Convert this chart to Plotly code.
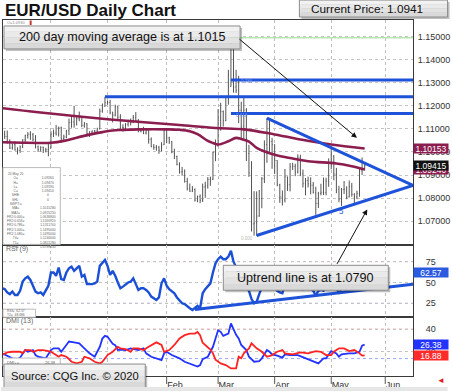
import plotly.graph_objects as go
from plotly.subplots import make_subplots
import pandas as pd

# ---------------- data ----------------
days = pd.bdate_range("2019-11-04", "2020-05-20")   # trading days, index 0..142

first_open = 1.1128
high = [1.1140, 1.1092, 1.1093, 1.1054, 1.1036, 1.1046, 1.1020, 1.1028, 1.1055, 1.1075,
        1.1086, 1.1090, 1.1082, 1.1073, 1.1028, 1.1025, 1.1023, 1.1018, 1.1035, 1.1090,
        1.1097, 1.1117, 1.1110, 1.1110, 1.1075, 1.1096, 1.1145, 1.1155, 1.1200, 1.1155,
        1.1175, 1.1153, 1.1130, 1.1125, 1.1090, 1.1093, 1.1095, 1.1105, 1.1188, 1.1210,
        1.1239, 1.1222, 1.1226, 1.1174, 1.1205, 1.1199, 1.1164, 1.1120, 1.1125, 1.1140,
        1.1145, 1.1160, 1.1173, 1.1143, 1.1100, 1.1109, 1.1100, 1.1103, 1.1063, 1.1034,
        1.1030, 1.1026, 1.1042, 1.1097, 1.1096, 1.1066, 1.1048, 1.1014, 1.0984, 1.0955,
        1.0935, 1.0924, 1.0888, 1.0863, 1.0852, 1.0842, 1.0811, 1.0816, 1.0863, 1.0871,
        1.0891, 1.0893, 1.1002, 1.1054, 1.1186, 1.1213, 1.1180, 1.1243, 1.1356, 1.1495,
        1.1454, 1.1356, 1.1330, 1.1218, 1.1237, 1.1190, 1.1031, 1.0960, 1.0830, 1.0829,
        1.0835, 1.0891, 1.1050, 1.1147, 1.1145, 1.1061, 1.1033, 1.0964, 1.0862, 1.0833,
        1.0926, 1.0893, 1.0952, 1.0953, 1.0949, 1.0990, 1.0988, 1.0924, 1.0887, 1.0893,
        1.0890, 1.0870, 1.0849, 1.0827, 1.0862, 1.0889, 1.0888, 1.0972, 1.1019, 1.0986,
        1.0931, 1.0853, 1.0844, 1.0874, 1.0851, 1.0876, 1.0866, 1.0821, 1.0832, 1.0926,
        1.0976, 1.0947]
low = [1.1064, 1.1056, 1.1036, 1.1013, 1.1010, 1.1006, 1.0989, 1.0996, 1.1016, 1.1040,
       1.1058, 1.1052, 1.1046, 1.1015, 1.1000, 1.1002, 1.0995, 1.0998, 1.0981, 1.1015,
       1.1065, 1.1071, 1.1067, 1.1040, 1.1052, 1.1059, 1.1073, 1.1105, 1.1105, 1.1115,
       1.1133, 1.1107, 1.1105, 1.1067, 1.1065, 1.1075, 1.1085, 1.1085, 1.1098, 1.1170,
       1.1196, 1.1205, 1.1163, 1.1128, 1.1154, 1.1135, 1.1092, 1.1087, 1.1090, 1.1110,
       1.1115, 1.1125, 1.1133, 1.1085, 1.1085, 1.1077, 1.1076, 1.1036, 1.1020, 1.1009,
       1.1005, 1.0992, 1.1002, 1.1030, 1.1038, 1.1035, 1.0994, 1.0969, 1.0942, 1.0906,
       1.0897, 1.0867, 1.0833, 1.0827, 1.0826, 1.0785, 1.0782, 1.0778, 1.0783, 1.0801,
       1.0841, 1.0853, 1.0878, 1.0960, 1.1024, 1.1092, 1.1110, 1.1133, 1.1205, 1.1283,
       1.1257, 1.1255, 1.1125, 1.1054, 1.1052, 1.0960, 1.0892, 1.0655, 1.0637, 1.0636,
       1.0719, 1.0756, 1.0865, 1.0953, 1.1000, 1.0927, 1.0904, 1.0851, 1.0779, 1.0768,
       1.0781, 1.0831, 1.0829, 1.0922, 1.0895, 1.0907, 1.0895, 1.0846, 1.0812, 1.0846,
       1.0816, 1.0820, 1.0727, 1.0757, 1.0812, 1.0813, 1.0812, 1.0849, 1.0925, 1.0877,
       1.0821, 1.0782, 1.0766, 1.0818, 1.0795, 1.0803, 1.0806, 1.0774, 1.0795, 1.0806,
       1.0900, 1.0919]
close = [1.1075, 1.1067, 1.1051, 1.1017, 1.1032, 1.1008, 1.1006, 1.1022, 1.1052, 1.1071,
         1.1077, 1.1075, 1.1055, 1.1022, 1.1010, 1.1020, 1.1008, 1.1010, 1.1017, 1.1078,
         1.1082, 1.1077, 1.1104, 1.1058, 1.1065, 1.1092, 1.1128, 1.1130, 1.1121, 1.1144,
         1.1150, 1.1115, 1.1122, 1.1080, 1.1087, 1.1090, 1.1090, 1.1100, 1.1177, 1.1199,
         1.1213, 1.1215, 1.1172, 1.1160, 1.1196, 1.1151, 1.1107, 1.1105, 1.1120, 1.1135,
         1.1127, 1.1150, 1.1136, 1.1090, 1.1096, 1.1082, 1.1093, 1.1055, 1.1024, 1.1019,
         1.1020, 1.1008, 1.1031, 1.1094, 1.1061, 1.1044, 1.1000, 1.0980, 1.0945, 1.0913,
         1.0916, 1.0872, 1.0840, 1.0830, 1.0837, 1.0791, 1.0806, 1.0790, 1.0848, 1.0853,
         1.0881, 1.0882, 1.0998, 1.1026, 1.1137, 1.1175, 1.1136, 1.1240, 1.1284, 1.1449,
         1.1281, 1.1266, 1.1181, 1.1109, 1.1181, 1.0993, 1.0909, 1.0688, 1.0692, 1.0722,
         1.0798, 1.0884, 1.1032, 1.1141, 1.1045, 1.1032, 1.0963, 1.0857, 1.0805, 1.0792,
         1.0892, 1.0858, 1.0935, 1.0938, 1.0913, 1.0977, 1.0905, 1.0862, 1.0876, 1.0862,
         1.0856, 1.0823, 1.0777, 1.0820, 1.0825, 1.0823, 1.0874, 1.0954, 1.0982, 1.0904,
         1.0837, 1.0796, 1.0837, 1.0839, 1.0805, 1.0849, 1.0816, 1.0805, 1.0819, 1.0918,
         1.0924, 1.09415]

ma200_bar = [1, 15, 30, 43, 55, 70, 84, 95, 107, 121, 129, 142]
ma200_val = [1.1190, 1.1172, 1.1155, 1.1141, 1.1130, 1.1117, 1.1104, 1.1098, 1.1076,
             1.1046, 1.1032, 1.10153]
ma2_bar = [1, 9, 15, 20, 25, 30, 35, 40, 45, 55, 65, 70, 74, 77, 81, 83, 85, 89, 92, 94,
           97, 100, 107, 113, 120, 131, 137, 142]
ma2_val = [1.1042, 1.1040, 1.1039, 1.1040, 1.1048, 1.1062, 1.1075, 1.1086, 1.1094, 1.1098,
           1.1098, 1.1096, 1.1090, 1.1077, 1.1048, 1.1039, 1.1032, 1.1046, 1.1061, 1.1056,
           1.1045, 1.1018, 1.0988, 1.0974, 1.0960, 1.0950, 1.0938, 1.0924]

rsi = [43, 42, 38, 36, 39, 35, 35, 40, 51, 55, 57, 53, 46, 39, 37, 38, 35, 40, 46, 62,
       62, 58, 68, 54, 53, 62, 67, 69, 64, 67, 70, 57, 59, 48, 48, 48, 49, 51, 70, 74,
       77, 70, 59, 64, 58, 50, 43, 45, 48, 50, 51, 55, 48, 41, 43, 43, 41, 38, 33, 31,
       29, 32, 49, 55, 46, 42, 40, 37, 32, 28, 25, 24, 21, 19, 17, 19, 22, 19, 37, 42,
       46, 49, 62, 73, 78, 81, 78, 78, 81, 88, 75, 68, 62, 55, 58, 45, 40, 30, 25, 27,
       36, 44, 55, 62, 52, 50, 45, 40, 38, 37, 48, 44, 52, 52, 49, 56, 47, 42, 45, 44,
       43, 40, 34, 40, 41, 40, 47, 56, 59, 50, 43, 38, 43, 43, 40, 46, 42, 40, 42, 57,
       58, 62.57]

dmi_plus_bar = [1, 3, 5, 7, 8, 10, 11, 13, 14, 15, 17, 18, 20, 21, 23, 24, 26, 27, 29, 31,
                33, 35, 37, 38, 39, 40, 41, 42, 43, 44, 45, 46, 47, 49, 51, 52, 54, 56, 57, 59,
                61, 63, 64, 65, 67, 70, 72, 75, 77, 78, 79, 81, 83, 84, 85, 86, 87, 89, 90, 91,
                92, 93, 94, 96, 97, 99, 101, 102, 104, 105, 106, 108, 110, 111, 113, 116, 119,
                122, 124, 126, 127, 129, 130, 131, 132, 133, 136, 138, 140, 141, 142]
dmi_plus_val = [18.6, 16.6, 14.2, 13.6, 14.8, 21.5, 20, 21.5, 17.1, 15.6, 14.8, 14.2, 21.5, 23,
                23, 20, 26, 29, 28.3, 27.5, 23, 18.6, 15.6, 20, 24.4, 31.7, 34.1, 33.2, 30, 27,
                25.9, 21.5, 22, 21.5, 23, 22.4, 21.5, 23, 18.6, 15.6, 14.2, 12.7, 18.6, 20, 17.1,
                14.2, 11.2, 8.9, 6.9, 8.3, 13.5, 15.6, 24.4, 31.7, 39, 37.6, 34, 36.1, 45, 40,
                35, 31.7, 26, 21.5, 15.6, 11.2, 11.8, 14.2, 21.5, 20, 17.7, 16.6, 14.8, 17.7,
                17.1, 17.1, 14.2, 11.8, 9.7, 14.2, 14.2, 20.6, 19.5, 18.6, 15.6, 17.7, 18.6,
                18.6, 20, 25.3, 26.38]
dmi_minus_bar = [1, 3, 5, 8, 9, 10, 12, 13, 15, 17, 19, 20, 22, 23, 24, 26, 27, 28, 30, 32,
                 33, 35, 37, 39, 40, 42, 44, 46, 47, 49, 51, 52, 54, 56, 58, 60, 61, 63, 64, 66,
                 68, 70, 72, 74, 76, 77, 78, 79, 81, 82, 83, 84, 86, 88, 90, 92, 93, 94, 95, 97,
                 98, 100, 102, 104, 106, 108, 110, 111, 114, 117, 120, 123, 125, 127, 129, 130,
                 132, 134, 136, 138, 140, 141, 142]
dmi_minus_val = [17.1, 19.4, 20, 20, 18.6, 21.5, 21.5, 20, 21.5, 21.5, 20.6, 20, 17.1, 15.6,
                 17.1, 15.6, 13.6, 11.2, 9.7, 11.2, 15.6, 14.2, 11.2, 9.7, 11.2, 17.1, 20, 24.4,
                 23, 22.4, 20, 23, 23, 21.5, 24.4, 27.4, 28.3, 26, 20, 21.5, 26, 31.7, 34.7, 36.1,
                 36.1, 37.6, 34.7, 28, 24.4, 22, 18.6, 13, 9.7, 8.3, 5.3, 5.3, 15.6, 14.2, 18.6,
                 23, 27.5, 23, 20, 15.6, 17.1, 20, 21.5, 18.6, 17.7, 19.4, 18.6, 20.6, 20, 17.1,
                 17.1, 20, 23, 23, 20.6, 21.5, 18.6, 16.6, 16.88]

price_ticks = [1.07, 1.08, 1.09, 1.10, 1.11, 1.12, 1.13, 1.14, 1.15]
month_ticks = ["2019-12-02", "2020-01-01", "2020-02-03", "2020-03-02", "2020-04-01",
               "2020-05-01", "2020-06-01"]
month_labels = ["Dec", "Jan", "Feb", "Mar", "Apr", "May", "Jun"]

fib_levels = [1.1312, 1.1239, 1.1167]
fib_start = ["2020-03-09", "2019-12-31", "2020-03-09"]
green_level = 1.1495
green_start = "2020-03-09"
apex = ("2020-06-15 19:00", 1.0855)
tri_upper_start = ("2020-03-27", 1.1147)
tri_lower_start = ("2020-03-23", 1.0638)
rsi_trend = [("2020-02-18", 17.5), ("2020-06-15 19:00", 48.0)]

x_range = ["2019-11-05 08:24", "2020-06-15 19:12"]
price_range = [1.0595, 1.1572]
rsi_range = [8.9, 94.6]
dmi_range = [-1.4, 51]

# ---------------- styling ----------------
FONT = "Liberation Sans, Arial, sans-serif"
BAR = "#555555"
MAROON = "#8b1d4f"
BLUE = "#1d52d9"
RSI_BLUE = "#1a4fd6"
DMI_BLUE = "#2233ff"
DMI_RED = "#ff2222"

W, H = 452, 392
L, R, T, B = 2, 417, 20, 377


def PX(x):
    return (x - L) / (R - L)


def PY(y):
    return (B - y) / (B - T)


opens = [first_open] + close[:-1]
bar_x = days[1:]

fig = make_subplots(rows=3, cols=1, shared_xaxes=True, vertical_spacing=0,
                    row_heights=[226, 71.5, 59.5])

fig.add_trace(go.Ohlc(x=bar_x, open=opens, high=high, low=low, close=close,
                      increasing=dict(line=dict(color=BAR, width=1)),
                      decreasing=dict(line=dict(color=BAR, width=1)),
                      tickwidth=0.25, hoverinfo="skip"), row=1, col=1)
fig.add_trace(go.Scatter(x=days[ma200_bar], y=ma200_val, mode="lines",
                         line=dict(color=MAROON, width=2.6, shape="spline")), row=1, col=1)
fig.add_trace(go.Scatter(x=days[ma2_bar], y=ma2_val, mode="lines",
                         line=dict(color=MAROON, width=2.6, shape="spline")), row=1, col=1)
fig.add_trace(go.Scatter(x=bar_x, y=rsi, mode="lines",
                         line=dict(color=RSI_BLUE, width=2.4)), row=2, col=1)
fig.add_trace(go.Scatter(x=days[dmi_plus_bar], y=dmi_plus_val, mode="lines",
                         line=dict(color=DMI_BLUE, width=1.8)), row=3, col=1)
fig.add_trace(go.Scatter(x=days[dmi_minus_bar], y=dmi_minus_val, mode="lines",
                         line=dict(color=DMI_RED, width=1.8)), row=3, col=1)

fig.update_layout(width=W, height=H, margin=dict(l=L, r=W - R, t=T, b=H - B),
                  paper_bgcolor="white", plot_bgcolor="white", showlegend=False,
                  hovermode=False, font=dict(family=FONT, size=9, color="#333"))

fig.update_xaxes(type="date", rangebreaks=[dict(bounds=["sat", "mon"])], range=x_range,
                 tickvals=month_ticks, ticktext=month_labels, showgrid=True,
                 gridcolor="#bdbdbd", griddash="dot", gridwidth=1, showline=True,
                 linecolor="#3a3a3a", linewidth=1, mirror=True, ticks="",
                 rangeslider_visible=False, zeroline=False)
fig.update_xaxes(showticklabels=True, ticklabelposition="outside right",
                 tickfont=dict(size=9, color="#333"), row=3, col=1)

fig.update_yaxes(side="right", showline=True, linecolor="#3a3a3a", linewidth=1, mirror=True,
                 showgrid=True, gridcolor="#c4c4c4", griddash="dot", zeroline=False,
                 tickfont=dict(size=9, color="#333"))
fig.update_yaxes(range=price_range, tickvals=price_ticks,
                 ticktext=[f"{v:.5f}" for v in price_ticks], ticks="outside", ticklen=2,
                 tickcolor="rgba(0,0,0,0)", row=1, col=1)
fig.update_yaxes(range=rsi_range, tickvals=[25, 50, 75], ticks="outside", ticklen=10,
                 tickcolor="rgba(0,0,0,0)", row=2, col=1)
fig.update_yaxes(range=dmi_range, tickvals=[20, 40], ticks="outside", ticklen=10,
                 tickcolor="rgba(0,0,0,0)", row=3, col=1)

# indicator reference levels
fig.add_shape(type="line", xref="x2 domain", yref="y2", x0=0, x1=1, y0=75, y1=75,
              line=dict(color="#ff9a9a", width=1, dash="dot"), layer="below")
fig.add_shape(type="line", xref="x2 domain", yref="y2", x0=0, x1=1, y0=25, y1=25,
              line=dict(color="#9aa8ff", width=1, dash="dot"), layer="below")
fig.add_shape(type="line", xref="x3 domain", yref="y3", x0=0, x1=1, y0=40, y1=40,
              line=dict(color="#ff9a9a", width=1, dash="dot"), layer="below")
fig.add_shape(type="line", xref="x3 domain", yref="y3", x0=0, x1=1, y0=14, y1=14,
              line=dict(color="#9aa8ff", width=1, dash="dot"), layer="below")

# month tick marks under the bottom axis
for d in month_ticks:
    fig.add_shape(type="line", xref="x3", yref="paper", x0=d, x1=d, y0=0, y1=-8 / (B - T),
                  line=dict(color="#555", width=1))

# levels and trend lines
fig.add_shape(type="line", xref="x", yref="y", x0=green_start, x1=x_range[1],
              y0=green_level, y1=green_level, line=dict(color="#b6e8b0", width=1.5))
for lv, st in zip(fib_levels, fib_start):
    fig.add_shape(type="line", xref="x", yref="y", x0=st, x1=x_range[1], y0=lv, y1=lv,
                  line=dict(color=BLUE, width=3))
for st in (tri_upper_start, tri_lower_start):
    fig.add_shape(type="line", xref="x", yref="y", x0=st[0], y0=st[1], x1=apex[0], y1=apex[1],
                  line=dict(color=BLUE, width=3))
fig.add_shape(type="line", xref="x2", yref="y2", x0=rsi_trend[0][0], y0=rsi_trend[0][1],
              x1=rsi_trend[1][0], y1=rsi_trend[1][1], line=dict(color=BLUE, width=3))


def rect(x0, y0, x1, y1, fill, line_color=None, lw=0):
    fig.add_shape(type="rect", xref="paper", yref="paper", x0=PX(x0), x1=PX(x1),
                  y0=PY(y1), y1=PY(y0), fillcolor=fill,
                  line=dict(color=line_color if line_color else fill, width=lw), layer="above")


def text(x, y, s, size=9, color="#333", xa="left", ya="middle", bold=False, family=FONT):
    fig.add_annotation(xref="paper", yref="paper", x=PX(x), y=PY(y),
                       text=f"<b>{s}</b>" if bold else s, showarrow=False,
                       xanchor=xa, yanchor=ya, font=dict(size=size, color=color, family=family))


def callout(x0, y0, x1, y1, s, size, cx=None):
    rect(x0 + 2, y0 + 2, x1 + 2, y1 + 2, "rgba(0,0,0,0.25)")
    bands = ["#f2f2f2", "#eaeaea", "#e2e2e2", "#d9d9d9"]
    hb = (y1 - y0) / len(bands)
    for i, c in enumerate(bands):
        rect(x0, y0 + i * hb, x1, y0 + (i + 1) * hb, c)
    fig.add_shape(type="rect", xref="paper", yref="paper", x0=PX(x0), x1=PX(x1),
                  y0=PY(y1), y1=PY(y0), line=dict(color="#8c8c8c", width=1), layer="above")
    text(cx if cx else (x0 + x1) / 2, (y0 + y1) / 2, s, size=size, color="#111", xa="center")


# data window (tiny text)
rect(2, 168, 60, 245, "white", "#bbbbbb", 1)
win_labels = ["20 May 20", "O=", "H=", "L=", "C=", "SHB:", "SHL:", "SWPT:=", "MA=", "MA2=",
              "FR2:0.000=", "FR2:0.618=", "FR2:0.786=", "FR2:1.000=", "FR2:1.080=",
              "T4=", "T1=", "TS="]
win_values = ["", "1.09260", "1.09470", "1.09190", "1.09410", "0", "0", "", "1.1015280",
              "1.0925250", "1.0636800", "1.1166920", "1.1311740", "1.1495000", "1.1495000",
              "1.1240000", "1.0821280", "1.0789630"]
text(4, 170, "<br>".join(win_labels), size=3.3, color="#666", ya="top")
text(58, 170, "<br>".join(v if v else "&nbsp;" for v in win_values), size=3.3,
     color="#666", xa="right", ya="top")
rect(2, 310, 35, 318, "white", "#bbbbbb", 1)
text(4, 314, "RSI=&nbsp;&nbsp;62.57<br>T2=&nbsp;&nbsp;48.686", size=3.3, color="#666")
rect(2, 359, 60, 367, "white", "#bbbbbb", 1)
text(4, 363, "DMI+=", size=4, color="#666")
text(42, 363, "26.38", size=4, color="#666")
text(3, 250, "RSI (9)", size=7, color="#666")
text(3, 322, "DMI (13)", size=7, color="#666")
text(4, 23, "O=1.0930", size=4, color="#888")
rect(29, 20.5, 31, 25, "#c0392b")

# small level labels
fig.add_annotation(xref="x", yref="y", x="2020-03-12", y=1.1306, text="0.786", showarrow=False,
                   xanchor="left", font=dict(size=4.5, color="#6f8fe8"))
fig.add_annotation(xref="x", yref="y", x="2020-03-10", y=1.1160, text="0.618", showarrow=False,
                   xanchor="left", font=dict(size=4.5, color="#6f8fe8"))
fig.add_annotation(xref="x", yref="y", x="2020-03-12", y=1.0625, text="0.000", showarrow=False,
                   xanchor="left", font=dict(size=4.5, color="#bbbbbb"))
fig.add_annotation(xref="x", yref="y", x="2020-05-07", y=1.0742, text="5", showarrow=False,
                   font=dict(size=8, color=BLUE))

# call-out boxes
callout(302, 0, 452, 17, "Current Price: 1.0941", 11.8, cx=370)
callout(3, 26, 242, 49, "200 day moving average is at 1.1015", 12.6)
callout(225, 266, 392, 291, "Uptrend line is at 1.0790", 12.6)
callout(3, 365, 146, 389, "Source: CQG Inc. © 2020", 11.2)
text(2, 10, "EUR/USD Daily Chart", size=17, color="#111", bold=True)

# arrows
fig.add_annotation(xref="x", yref="y", x="2020-05-15", y=1.1061, ax=-119, ay=-100,
                   showarrow=True, arrowhead=2, arrowsize=1.1, arrowwidth=1, arrowcolor="#111",
                   text="")
fig.add_annotation(xref="x", yref="y", x="2020-05-21", y=1.0751, ax=-31, ay=56,
                   showarrow=True, arrowhead=2, arrowsize=1.1, arrowwidth=1, arrowcolor="#111",
                   text="")


# value tags on the right axis
def tag(yref, val, s, bg):
    fig.add_annotation(xref="paper", yref=yref, x=PX(417.5), y=val, text=s, showarrow=False,
                       xanchor="left", yanchor="middle", width=34, height=9, borderpad=0,
                       bgcolor=bg, font=dict(size=8.5, color="white"), align="center")


tag("y", ma200_val[-1], "1.10153", MAROON)
tag("y", ma2_val[-1], "1.09240", MAROON)
tag("y", close[-1], "1.09415", "#111111")
tag("y2", rsi[-1], "62.57", "#2a5ae0")
tag("y3", dmi_plus_val[-1], "26.38", "#2233ff")
tag("y3", dmi_minus_val[-1], "16.88", "#ff2a2a")

rect(0, 388, 452, 392, "#e6e6e6")
text(445, 382, "◄", size=8, color="#e02020", xa="center")

fig.write_html("out.html", config={"displayModeBar": False},
               post_script="document.body.style.margin='0';")
